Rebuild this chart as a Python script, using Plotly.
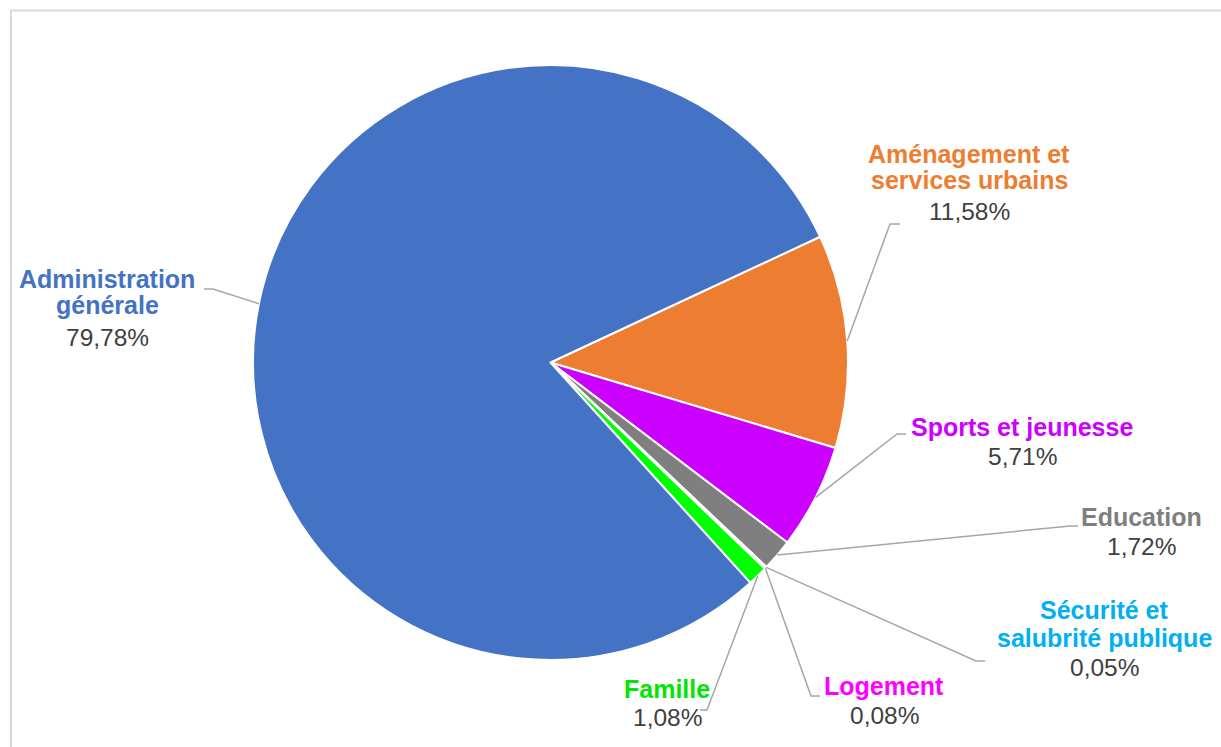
import math
import plotly.graph_objects as go

# ---- data ----
categories = ["Aménagement et services urbains", "Sports et jeunesse", "Education",
              "Sécurité et salubrité publique", "Logement", "Famille", "Administration générale"]
values = [11.58, 5.71, 1.72, 0.05, 0.08, 1.08, 79.78]
name_lines = [["Aménagement et", "services urbains"], ["Sports et jeunesse"], ["Education"],
              ["Sécurité et", "salubrité publique"], ["Logement"], ["Famille"],
              ["Administration", "générale"]]
colors = ["#ED7D31", "#CC00FF", "#7F7F7F", "#00B0F0", "#FF00FF", "#00FF00", "#4472C4"]
text_colors = ["#ED7D31", "#CC00FF", "#7F7F7F", "#00B0F0", "#FF00FF", "#00E600", "#4472C4"]

# ---- layout constants (pixels) ----
W, H = 1221, 747
CX, CY, R = 550.5, 362.5, 297.5
ROT = 65
# label layout: x center, y centers of name lines, y center of percent line, elbow, end
label_layout = [
    dict(x=969, ys=[154, 180], yp=212, elbow=(890, 224), end=(900, 224)),
    dict(x=1022, ys=[427], yp=456, elbow=(897, 434), end=(906, 434)),
    dict(x=1141, ys=[517], yp=546, elbow=(1070, 526), end=(1078, 526)),
    dict(x=1104, ys=[610, 638], yp=667, elbow=(976, 661), end=(985, 661)),
    dict(x=884, ys=[686], yp=715, elbow=(811, 696), end=(820, 696)),
    dict(x=667, ys=[689], yp=717, elbow=(707, 710), end=(700, 710)),
    dict(x=107, ys=[279, 305], yp=337, elbow=(213, 289), end=(204, 289)),
]

def px(x):
    return x / W

def py(y):
    return 1 - y / H

fig = go.Figure(go.Pie(
    labels=categories, values=values, sort=False, direction="clockwise",
    rotation=ROT, textinfo="none", hoverinfo="label+percent",
    marker=dict(colors=colors, line=dict(color="white", width=2)),
    domain=dict(x=[px(CX - R), px(CX + R)], y=[py(CY + R), py(CY - R)]),
    showlegend=False,
))

annotations = []
shapes = []
total = sum(values)
cum = 0.0
for i, v in enumerate(values):
    mid = ROT + 360 * (cum + v / 2) / total
    cum += v
    a = math.radians(mid)
    sx = CX + R * math.sin(a)
    sy = CY - R * math.cos(a)
    L = label_layout[i]
    ex, ey = L["elbow"]
    tx, ty = L["end"]
    shapes.append(dict(type="path", xref="paper", yref="paper",
                       path=f"M {px(sx)},{py(sy)} L {px(ex)},{py(ey)} L {px(tx)},{py(ty)}",
                       line=dict(color="#A6A6A6", width=1.5)))
    for line, y in zip(name_lines[i], L["ys"]):
        annotations.append(dict(x=px(L["x"]), y=py(y), xref="paper", yref="paper",
                                text=f"<b>{line}</b>", showarrow=False,
                                xanchor="center", yanchor="middle",
                                font=dict(family="Liberation Sans, Arial", size=25,
                                          color=text_colors[i])))
    pct = f"{v:.2f}".replace(".", ",") + "%"
    annotations.append(dict(x=px(L["x"]), y=py(L["yp"]), xref="paper", yref="paper",
                            text=pct, showarrow=False, xanchor="center", yanchor="middle",
                            font=dict(family="Liberation Sans, Arial", size=24.5,
                                      color="#404040")))

# outer frame
shapes.append(dict(type="rect", xref="paper", yref="paper",
                   x0=px(11), x1=px(1240), y0=py(770), y1=py(10.5),
                   line=dict(color="#D9D9D9", width=2), layer="below"))

fig.update_layout(
    width=W, height=H, autosize=False,
    margin=dict(l=0, r=0, t=0, b=0),
    paper_bgcolor="white", plot_bgcolor="white",
    annotations=annotations, shapes=shapes,
)

fig.write_html("out.html", config={"displayModeBar": False},
               post_script="document.body.style.margin='0';document.body.style.padding='0';"
                           "document.body.style.overflow='hidden';")
